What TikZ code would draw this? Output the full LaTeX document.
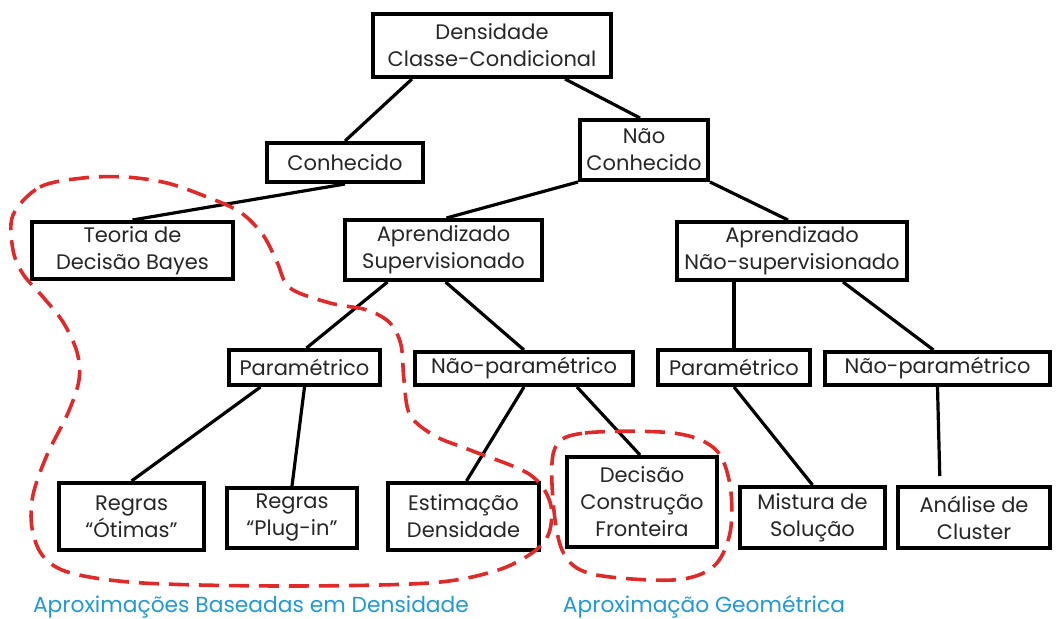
\documentclass[tikz,border=0pt]{standalone}
\usepackage{fontspec}
\setmainfont{Poppins}
\usetikzlibrary{calc}

\definecolor{linered}{HTML}{E02A2A}
\definecolor{labelblue}{HTML}{1E9AD6}

\tikzset{
    box/.style={draw, line width=2pt, align=center, inner sep=1pt,
        text=black!85, font=\fontsize{10.5}{13.5}\selectfont},
    link/.style={line width=1.6pt},
    region/.style={linered, line width=1.8pt, dash pattern=on 10pt off 5pt},
    caption/.style={labelblue, font=\fontsize{10.9}{13}\selectfont}
}

\begin{document}
\begin{tikzpicture}[x=0.5pt, y=-0.5pt]
    \useasboundingbox (0,0) rectangle (1060,619);

    % Root and first level
    \node[box, minimum width=119pt, minimum height=31.5pt] (dens) at (492,45.5) {Densidade\\Classe-Condicional};
    \node[box, minimum width=78pt, minimum height=19.5pt] (con) at (345,162.5) {Conhecido};
    \node[box, minimum width=64pt, minimum height=30pt] (ncon) at (644,150) {Não\\Conhecido};

    % Second level
    \node[box, minimum width=100.5pt, minimum height=28.5pt] (bayes) at (132.5,250.5) {Teoria de\\Decisão Bayes};
    \node[box, minimum width=98.5pt, minimum height=30pt] (asup) at (443.5,250) {Aprendizado\\Supervisionado};
    \node[box, minimum width=115pt, minimum height=29pt] (ansup) at (792,251) {Aprendizado\\Não-supervisionado};

    % Third level
    \node[box, minimum width=75.5pt, minimum height=17.5pt] (par1) at (304.5,367.5) {Paramétrico};
    \node[box, minimum width=109pt, minimum height=16.5pt] (npar1) at (524,368.5) {Não-paramétrico};
    \node[box, minimum width=76pt, minimum height=17.5pt] (par2) at (734,367.5) {Paramétrico};
    \node[box, minimum width=112.5pt, minimum height=16.5pt] (npar2) at (937.5,368.5) {Não-paramétrico};

    % Leaves
    \node[box, minimum width=72.5pt, minimum height=33.5pt] (otim) at (131.5,516.5) {Regras\\“Ótimas”};
    \node[box, minimum width=65pt, minimum height=30pt] (plug) at (292,518) {Regras\\“Plug-in”};
    \node[box, minimum width=75.5pt, minimum height=33.5pt] (est) at (463.5,516.5) {Estimação\\Densidade};
    \node[box, minimum width=75pt, minimum height=45pt] (fron) at (642,502) {Decisão\\Construção\\Fronteira};
    \node[box, minimum width=72.5pt, minimum height=30.5pt] (mist) at (812.5,517.5) {Mistura de\\Solução};
    \node[box, minimum width=76pt, minimum height=30.5pt] (clus) at (974,517.5) {Análise de\\Cluster};

    % Tree links
    \draw[link] ([xshift=-40pt]dens.south) -- (con.north);
    \draw[link] ([xshift=36.5pt]dens.south) -- ([xshift=-2pt]ncon.north);
    \draw[link] (con.south) -- (bayes.north);
    \draw[link] (ncon.south west) -- ([xshift=1.5pt]asup.north);
    \draw[link] (ncon.south east) -- ([xshift=-2pt]ansup.north);
    \draw[link] ([xshift=-28pt]asup.south) -- ([xshift=1pt]par1.north);
    \draw[link] ([xshift=1pt]asup.south) -- (npar1.north);
    \draw[link] (ansup.south -| par2.north) -- (par2.north);
    \draw[link] ([xshift=25.5pt]ansup.south) -- ([xshift=-2pt]npar2.north);
    \draw[link] ([xshift=-22pt]par1.south) -- (otim.north);
    \draw[link] (par1.south) -- (plug.north);
    \draw[link] (npar1.south) -- ([xshift=1.5pt]est.north);
    \draw[link] ([xshift=26.5pt]npar1.south) -- ([xshift=-1pt]fron.north);
    \draw[link] (par2.south) -- (mist.north);
    \draw[link, shorten >=4.5pt] (npar2.south) -- ([xshift=-17pt]clus.north);

    % Density-based region
    \draw[region] plot[smooth cycle, tension=0.55] coordinates {
        (13,215) (40,187) (83,178) (125,177) (167,183) (207,197) (240,212)
        (263,235) (277,262) (290,288) (330,303) (367,310) (390,323) (401,345)
        (404,380) (410,415) (435,436) (470,450) (529,474) (550,502) (549,533)
        (532,553) (495,571) (429,583) (286,586) (143,583) (71,573) (43,556)
        (32,528) (33,495) (47,455) (68,413) (79,380) (77,352) (63,322)
        (43,297) (23,274) (13,250)};

    % Geometric region
    \draw[region] plot[smooth cycle, tension=0.55] coordinates {
        (555,448) (585,433) (673,433) (715,449) (730,485) (730,533)
        (713,567) (673,580) (592,574) (563,552) (553,500)};

    \node[caption] (densreg) at (251,607) {Aproximações Baseadas em Densidade};
    \node[caption] (georeg) at (704,607) {Aproximação Geométrica};
\end{tikzpicture}
\end{document}
